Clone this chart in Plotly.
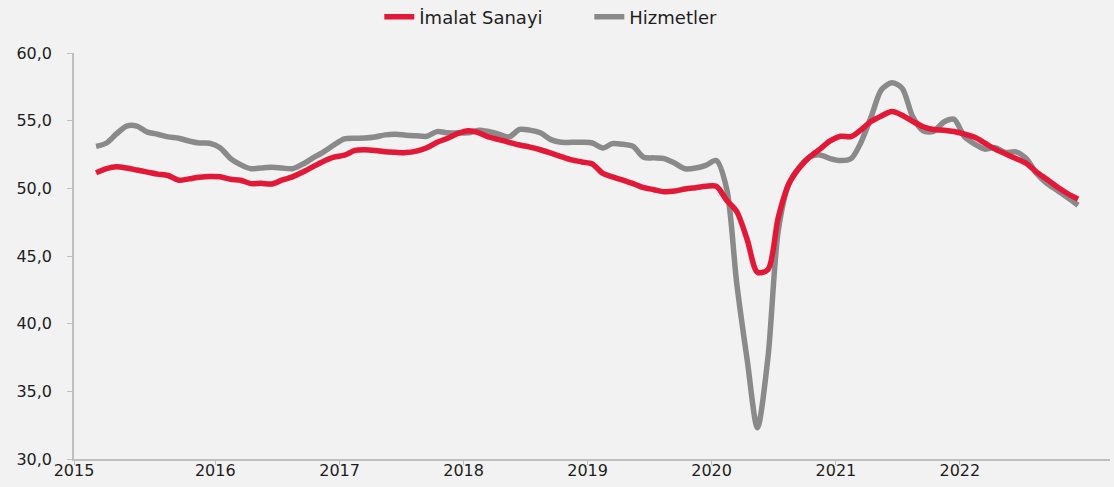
import pandas as pd
import plotly.graph_objects as go

# monthly series, Jan 2015 - Dec 2022
months = pd.date_range("2015-01-01", periods=96, freq="MS") + pd.Timedelta(days=14)

imalat = [51.15, 51.45, 51.6, 51.5, 51.35, 51.2, 51.05, 50.95, 50.6, 50.7, 50.82, 50.88,
          50.85, 50.67, 50.6, 50.35, 50.37, 50.32, 50.6, 50.85, 51.2, 51.6, 52.0, 52.3,
          52.45, 52.8, 52.85, 52.8, 52.7, 52.66, 52.64, 52.75, 53.0, 53.4, 53.7, 54.05,
          54.25, 54.1, 53.8, 53.6, 53.4, 53.2, 53.05, 52.85, 52.6, 52.35, 52.1, 51.95,
          51.8, 51.1, 50.85, 50.6, 50.35, 50.05, 49.9, 49.75, 49.8, 49.95, 50.05, 50.15,
          50.15, 49.1, 48.3, 46.2, 43.8, 44.0, 47.8, 50.3, 51.5, 52.3, 52.9, 53.5,
          53.85, 53.82, 54.3, 54.95, 55.35, 55.67, 55.4, 54.95, 54.55, 54.35, 54.3, 54.2,
          54.0, 53.75, 53.35, 52.9, 52.55, 52.2, 51.85, 51.2, 50.65, 50.1, 49.6, 49.2]

hizmetler = [53.1, 53.35, 54.0, 54.6, 54.6, 54.15, 54.0, 53.8, 53.7, 53.5, 53.35, 53.33,
             53.0, 52.2, 51.75, 51.45, 51.5, 51.55, 51.5, 51.45, 51.8, 52.25, 52.7, 53.2,
             53.65, 53.7, 53.72, 53.8, 53.95, 54.0, 53.92, 53.88, 53.85, 54.19, 54.1, 54.1,
             54.1, 54.3, 54.2, 54.0, 53.8, 54.35, 54.3, 54.1, 53.6, 53.4, 53.4, 53.4,
             53.35, 52.98, 53.3, 53.25, 53.1, 52.3, 52.25, 52.2, 51.85, 51.45, 51.5, 51.7,
             52.05, 49.9, 43.0, 37.3, 32.3, 37.5, 46.8, 50.3, 51.55, 52.3, 52.47, 52.2,
             52.05, 52.2, 53.35, 55.3, 57.28, 57.8, 57.4, 55.3, 54.25, 54.2, 54.9, 55.1,
             53.8, 53.25, 52.9, 53.0, 52.65, 52.7, 52.2, 51.1, 50.35, 49.85, 49.3, 48.75]

year_ticks = ["2014-11-11", "2016-01-01", "2017-01-01", "2018-01-01", "2019-01-01",
              "2020-01-01", "2021-01-01", "2022-01-01"]
year_labels = ["2015", "2016", "2017", "2018", "2019", "2020", "2021", "2022"]

fig = go.Figure()
fig.add_trace(go.Scatter(x=months, y=hizmetler, name="Hizmetler", mode="lines",
                         line=dict(color="#8A8A8A", width=5.5, shape="spline", smoothing=0.8)))
fig.add_trace(go.Scatter(x=months, y=imalat, name="İmalat Sanayi", mode="lines",
                         line=dict(color="#E31837", width=5.5, shape="spline", smoothing=0.8)))

fig.update_layout(
    width=1114, height=487,
    paper_bgcolor="#F2F2F2", plot_bgcolor="#F2F2F2",
    margin=dict(l=74, r=4, t=53, b=28),
    separators=",.",
    font=dict(family="DejaVu Sans", size=16, color="#1E1E1E"),
    legend=dict(orientation="h", x=0.529, xanchor="center", xref="container",
                y=0.965, yanchor="middle", yref="container",
                entrywidth=165, entrywidthmode="pixels",
                font=dict(size=18), traceorder="reversed", bgcolor="rgba(0,0,0,0)"),
    showlegend=True,
)
fig.update_xaxes(type="date", range=["2014-11-11", "2023-03-19"],
                 tickvals=year_ticks, ticktext=year_labels, automargin=False,
                 showgrid=False, zeroline=False, showline=True, linecolor="#BFBFBF",
                 linewidth=1.5, ticks="outside", ticklen=4, tickcolor="#BFBFBF",
                 ticklabelstandoff=-8)
fig.update_yaxes(range=[30, 60], dtick=5, tickformat=".1f", automargin=False,
                 showgrid=False, zeroline=False, showline=True, linecolor="#BFBFBF",
                 linewidth=1.5, ticks="outside", ticklen=5, tickcolor="#BFBFBF",
                 ticklabelstandoff=12)

# page has a default body margin; remove it so the figure sits at the window corner
fig.write_html("out.html", config={"displayModeBar": False},
               post_script="document.body.style.margin='0';document.body.style.background='#F2F2F2';")
